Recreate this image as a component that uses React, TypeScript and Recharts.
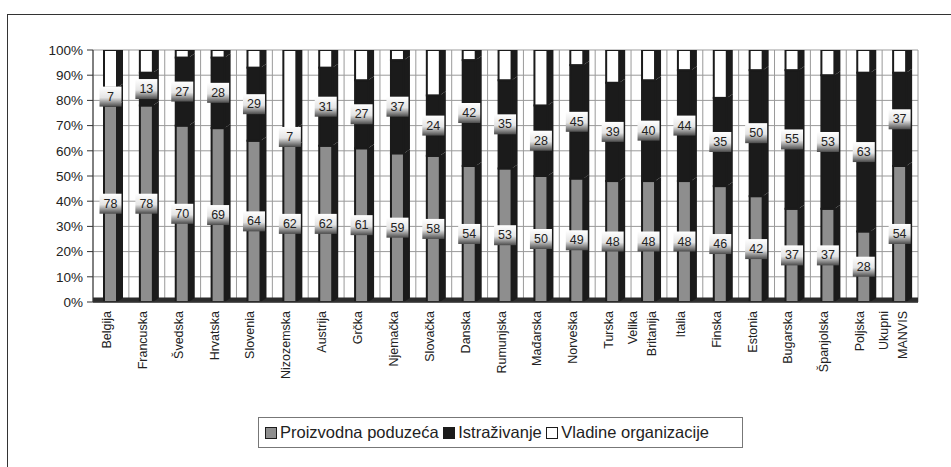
import React from "react";
import {
  Bar,
  BarChart,
  CartesianGrid,
  LabelList,
  ReferenceArea,
  XAxis,
  YAxis,
} from "recharts";

const countries = [
  "Belgija",
  "Francuska",
  "Švedska",
  "Hrvatska",
  "Slovenia",
  "Nizozemska",
  "Austrija",
  "Grčka",
  "Njemačka",
  "Slovačka",
  "Danska",
  "Rumunjska",
  "Mađarska",
  "Norveška",
  "Turska",
  "Velika\nBritanija",
  "Italia",
  "Finska",
  "Estonia",
  "Bugarska",
  "Španjolska",
  "Poljska",
  "Ukupni\nMANVIS",
];

const proizvodna = [78, 78, 70, 69, 64, 62, 62, 61, 59, 58, 54, 53, 50, 49, 48, 48, 48, 46, 42, 37, 37, 28, 54];
const istrazivanje = [7, 13, 27, 28, 29, 7, 31, 27, 37, 24, 42, 35, 28, 45, 39, 40, 44, 35, 50, 55, 53, 63, 37];
const vladine = [15, 9, 3, 3, 7, 31, 7, 12, 4, 18, 4, 12, 22, 6, 13, 12, 8, 19, 8, 8, 10, 9, 9];

const yTicks = [0, 10, 20, 30, 40, 50, 60, 70, 80, 90, 100];

const data = countries.map((name, i) => ({
  name,
  proizvodna: proizvodna[i],
  istrazivanje: istrazivanje[i],
  vladine: vladine[i],
}));

const FONT = "'Liberation Sans', Arial, sans-serif";
const DARK = "#1b1b1b";
const GRAY = "#8e8e8e";

// front face + dark side, optional top face for the last segment
function makeBar3D(withTop: boolean) {
  return function Bar3D(props: any) {
    const { x, y, width, height, fill } = props;
    if (height == null || height <= 0) return null;
    const d = 6;
    const dy = 4;
    return (
      <g>
        <polygon
          points={`${x + width},${y} ${x + width + d},${y - dy} ${x + width + d},${y + height - dy} ${x + width},${y + height}`}
          fill={DARK}
        />
        {withTop && (
          <polygon
            points={`${x},${y} ${x + d},${y - dy} ${x + width + d},${y - dy} ${x + width},${y}`}
            fill={DARK}
          />
        )}
        <rect x={x} y={y} width={width} height={height} fill={fill} stroke={DARK} strokeWidth={2} />
      </g>
    );
  };
}

function BoxLabel(props: any) {
  const vb = props.viewBox ?? props;
  const { x, y, width, height } = vb;
  const cx = x + width / 2;
  const cy = y + height / 2;
  return (
    <g>
      <rect x={cx - 11} y={cy - 10} width={22} height={20} fill="url(#lblGrad)" />
      <text
        x={cx}
        y={cy}
        textAnchor="middle"
        dominantBaseline="central"
        fontSize={12.5}
        fontFamily={FONT}
        fill="#222"
      >
        {props.value}
      </text>
    </g>
  );
}

function CountryTick(props: any) {
  const { x, y, payload } = props;
  const lines = String(payload.value).split("\n");
  const offsets = lines.length === 1 ? [-4] : [-16, 3];
  return (
    <g transform={`translate(${x},${y})`}>
      {lines.map((line, i) => (
        <text
          key={i}
          transform={`translate(${offsets[i]},9) rotate(-90)`}
          textAnchor="end"
          dominantBaseline="central"
          fontSize={12.5}
          fontFamily={FONT}
          fill="#222"
        >
          {line}
        </text>
      ))}
    </g>
  );
}

function LegendSwatch({ color }: { color: string }) {
  return (
    <span
      style={{
        display: "inline-block",
        width: 10,
        height: 10,
        background: color,
        border: `1.5px solid ${DARK}`,
        marginRight: 3,
        verticalAlign: "-1px",
      }}
    />
  );
}

export default function App() {
  return (
    <div
      style={{
        position: "absolute",
        left: 0,
        top: 0,
        width: 951,
        height: 467,
        background: "#fff",
        overflow: "hidden",
        fontFamily: FONT,
      }}
    >
      <div
        style={{
          position: "absolute",
          left: 7,
          top: 14,
          width: 960,
          height: 470,
          borderLeft: "1.5px solid #333",
          borderTop: "1.5px solid #333",
        }}
      />
      <BarChart
        width={951}
        height={467}
        data={data}
        margin={{ top: 50, right: 33, left: 0, bottom: 0 }}
        barSize={13}
        style={{ position: "absolute", left: 0, top: 0 }}
      >
        <defs>
          <linearGradient id="lblGrad" x1="0" y1="0" x2="0" y2="1">
            <stop offset="0%" stopColor="#ffffff" />
            <stop offset="55%" stopColor="#e4e4e4" />
            <stop offset="100%" stopColor="#4a4a4a" />
          </linearGradient>
        </defs>
        <CartesianGrid
          stroke="#9a9a9a"
          strokeWidth={1}
          verticalCoordinatesGenerator={({ offset }: any) =>
            countries.map((_, i) => offset.left + (offset.width / countries.length) * i).concat(offset.left + offset.width)
          }
        />
        <XAxis
          dataKey="name"
          interval={0}
          height={165}
          tickLine={false}
          tickSize={0}
          tickMargin={0}
          axisLine={{ stroke: "#333", strokeWidth: 1.5 }}
          tick={<CountryTick />}
        />
        <YAxis
          width={93}
          domain={[0, 100]}
          ticks={yTicks}
          allowDataOverflow
          tickFormatter={(v: number) => `${v}%`}
          tick={{ fontSize: 13.5, fill: "#222", fontFamily: FONT }}
          tickSize={6}
          tickMargin={4}
          tickLine={{ stroke: "#333" }}
          axisLine={{ stroke: "#333" }}
        />
        <ReferenceArea y1={0} y2={1.8} fill="#2c2c2c" fillOpacity={1} stroke="none" />
        <Bar
          dataKey="proizvodna"
          stackId="a"
          fill={GRAY}
          shape={makeBar3D(false)}
          isAnimationActive={false}
        >
          <LabelList dataKey="proizvodna" content={<BoxLabel />} />
        </Bar>
        <Bar
          dataKey="istrazivanje"
          stackId="a"
          fill={DARK}
          shape={makeBar3D(false)}
          isAnimationActive={false}
        >
          <LabelList dataKey="istrazivanje" content={<BoxLabel />} />
        </Bar>
        <Bar
          dataKey="vladine"
          stackId="a"
          fill="#ffffff"
          shape={makeBar3D(true)}
          isAnimationActive={false}
        />
      </BarChart>
      <div
        style={{
          position: "absolute",
          left: 258,
          top: 417,
          width: 485,
          height: 31,
          boxSizing: "border-box",
          border: "1px solid #777",
          background: "#fff",
          fontSize: 16.5,
          color: "#222",
          lineHeight: "29px",
          paddingLeft: 6,
          whiteSpace: "nowrap",
        }}
      >
        <LegendSwatch color={GRAY} />
        Proizvodna poduzeća&nbsp;
        <LegendSwatch color={DARK} />
        Istraživanje&nbsp;
        <LegendSwatch color="#ffffff" />
        Vladine organizacije
      </div>
    </div>
  );
}
